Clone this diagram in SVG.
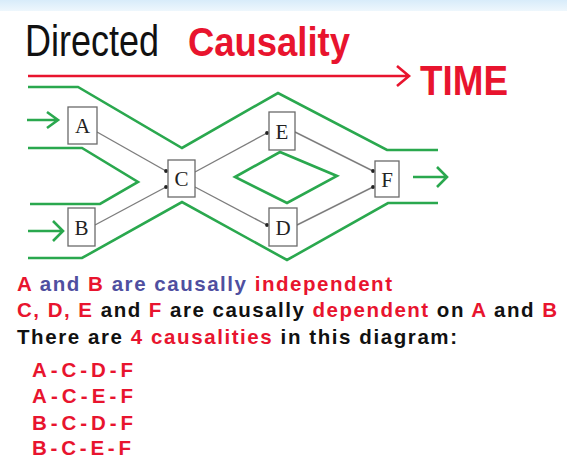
<svg xmlns="http://www.w3.org/2000/svg" width="567" height="461" viewBox="0 0 567 461">
<style>
.g{fill:none;stroke:#2aa84e;stroke-width:2.6;stroke-linejoin:miter}
.c{fill:none;stroke:#7d7d7d;stroke-width:1.4;marker-end:url(#dot)}
.box{fill:#fff;stroke:#6a6a6a;stroke-width:1.3}
.lbl{font-family:"Liberation Serif",serif;font-size:21px;fill:#222;text-anchor:middle}
.body{font-family:"Liberation Sans",Arial,sans-serif;font-weight:bold;font-size:20.5px;fill:#111}
.r{fill:#e8142e}
.b{fill:#4f4fa0}
</style>
<defs>
<linearGradient id="bg" x1="0" y1="0" x2="0" y2="1">
<stop offset="0" stop-color="#d8ecfa"/><stop offset="1" stop-color="#eef7fd"/>
</linearGradient>
<marker id="dot" markerWidth="6" markerHeight="6" refX="3" refY="3" markerUnits="userSpaceOnUse"><circle cx="3" cy="3" r="1.9" fill="#222"/></marker>
</defs>
<rect width="567" height="461" fill="#fff"/>
<rect width="567" height="11" fill="url(#bg)"/>
<text x="25" y="56" font-family="Liberation Sans,Arial,sans-serif" font-size="45" fill="#111" textLength="134" lengthAdjust="spacingAndGlyphs">Directed</text>
<text x="188" y="56" font-family="Liberation Sans,Arial,sans-serif" font-size="41" font-weight="bold" fill="#e8142e" textLength="162" lengthAdjust="spacingAndGlyphs">Causality</text>
<g id="timeline">
<path d="M28 76H409M397 66L409 76L397 86" fill="none" stroke="#e8142e" stroke-width="2.6"/>
<text x="420" y="95" font-family="Liberation Sans,Arial,sans-serif" font-size="43" font-weight="bold" fill="#e8142e" textLength="88" lengthAdjust="spacingAndGlyphs">TIME</text>
</g>
<g id="worldlines">
<path class="g" d="M28 87H78L182 148L278 93L387 150H438"/>
<path class="g" d="M28 148H82L138 182L100 204H30"/>
<path class="g" d="M28 258H82L182 202L287 260L388 203H438"/>
<path class="g" d="M235 177L280 152L337 176L287 203Z"/>
<path class="g" d="M27 120H58M47 112L58 120L47 128"/>
<path class="g" d="M28 231H63M53 221L63 231L53 241"/>
<path class="g" d="M413 177H447M437 167L447 177L437 187"/>
</g>
<g id="connectors">
<path class="c" d="M97 132L166 171"/>
<path class="c" d="M95 225L166 187"/>
<path class="c" d="M195 172L267 133"/>
<path class="c" d="M195 187L267 225"/>
<path class="c" d="M295 132L373 171"/>
<path class="c" d="M297 225L373 187"/>
</g>
<g id="A"><rect class="box" x="68" y="107" width="29" height="37"/><text class="lbl" x="82.5" y="133">A</text></g>
<g id="B"><rect class="box" x="68" y="208" width="27" height="38"/><text class="lbl" x="81.5" y="235">B</text></g>
<g id="C"><rect class="box" x="168" y="160" width="27" height="37"/><text class="lbl" x="181.5" y="186">C</text></g>
<g id="E"><rect class="box" x="269" y="112" width="26" height="38"/><text class="lbl" x="282" y="139">E</text></g>
<g id="D"><rect class="box" x="269" y="208" width="28" height="38"/><text class="lbl" x="283" y="235">D</text></g>
<g id="F"><rect class="box" x="375" y="161" width="24" height="36"/><text class="lbl" x="387" y="187">F</text></g>
<text class="body" x="17" y="291" textLength="375" lengthAdjust="spacing"><tspan class="r">A</tspan><tspan class="b"> and </tspan><tspan class="r">B</tspan><tspan class="b"> are causally </tspan><tspan class="r">independent</tspan></text>
<text class="body" x="17" y="317" textLength="540" lengthAdjust="spacing"><tspan class="r">C, D, E</tspan> and <tspan class="r">F</tspan> are causally <tspan class="r">dependent</tspan> on <tspan class="r">A</tspan> and <tspan class="r">B</tspan></text>
<text class="body" x="17" y="344" textLength="440" lengthAdjust="spacing">There are <tspan class="r">4 causalities</tspan> in this diagram:</text>
<g class="body r" font-size="21">
<text x="32" y="377" textLength="101" lengthAdjust="spacing">A-C-D-F</text>
<text x="32" y="403" textLength="101" lengthAdjust="spacing">A-C-E-F</text>
<text x="32" y="430" textLength="101" lengthAdjust="spacing">B-C-D-F</text>
<text x="32" y="455" textLength="99" lengthAdjust="spacing">B-C-E-F</text>
</g>
</svg>
